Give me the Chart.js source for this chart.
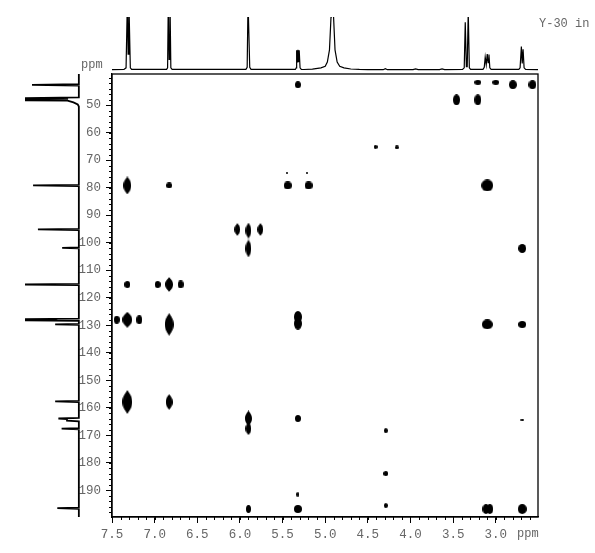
<!DOCTYPE html>
<html>
<head>
<meta charset="utf-8">
<title>Y-30 in</title>
<script src="https://cdn.jsdelivr.net/npm/chart.js@4/dist/chart.umd.min.js"></script>
<style>
  html, body { margin: 0; padding: 0; background: #fff; }
  canvas { position: absolute; display: block; }
  #main { left: 0; top: 0; }
  #top { left: 112px; top: 17px; }
  #side { left: 25px; top: 74px; }
  .lbl { position: absolute; font: 12px "Liberation Mono", monospace; color: #666; white-space: pre; }
</style>
</head>
<body>
<canvas id="main" width="595" height="553"></canvas>
<canvas id="top" width="426" height="54"></canvas>
<canvas id="side" width="56" height="443"></canvas>
<div class="lbl" style="left:81px;top:58px">ppm</div>
<div class="lbl" style="left:517px;top:527px">ppm</div>
<div class="lbl" style="left:539px;top:17px">Y-30 in</div>
<script>
"use strict";

// axis ranges, ppm
const hRange = [7.5, 2.505];
const cRange = [38.7, 199.7];

const xTicks = [7.5, 7.0, 6.5, 6.0, 5.5, 5.0, 4.5, 4.0, 3.5, 3.0];
const yTicks = [50, 60, 70, 80, 90, 100, 110, 120, 130, 140, 150, 160, 170, 180, 190];

// cross peaks: 1H shift, 13C shift, contour extent in each dimension (ppm)
const crossH = [5.32, 3.21, 3.00, 2.80, 2.57, 3.46, 3.21, 4.41, 4.16, 5.45, 5.21, 7.32, 6.83, 5.44, 5.195, 3.10,
  6.03, 5.90, 5.76, 5.90, 2.69, 7.32, 6.965, 6.83, 6.695, 7.445, 7.32, 7.18, 6.83, 5.32, 5.32, 3.10, 2.69,
  7.32, 6.83, 5.90, 5.90, 5.32, 2.69, 4.29, 4.29, 5.32, 4.29, 5.90, 5.32, 3.115, 3.07, 2.69];
const crossC = [42.6, 41.7, 41.7, 42.6, 42.6, 48.1, 48.1, 65.2, 65.4, 74.5, 74.5, 79.2, 79.2, 79.2, 79.2, 79.2,
  95.2, 95.6, 95.2, 102.1, 102.1, 115.2, 115.2, 115.2, 115.2, 128, 128, 128, 129.7, 127, 129.4, 129.7, 129.7,
  157.9, 157.9, 163.9, 167.6, 163.9, 164.3, 168.3, 183.9, 191.5, 195.5, 196.8, 196.8, 196.8, 196.8, 196.8];
const crossWidthH = [.07, .08, .08, .085, .085, .08, .08, .04, .04, .018, .018, .09, .06, .085, .085, .14,
  .06, .07, .06, .07, .085, .06, .06, .085, .06, .07, .11, .07, .1, .09, .09, .12, .085,
  .11, .08, .075, .07, .07, .045, .045, .055, .035, .045, .055, .085, .075, .075, .105];
const crossWidthC = [2.2, 1.5, 1.5, 3.0, 3.0, 3.8, 3.8, 1.3, 1.3, .7, .7, 6.5, 2.0, 2.6, 2.6, 4.0,
  4.4, 5.8, 4.4, 6.5, 3.0, 2.2, 2.4, 5.2, 2.6, 2.6, 5.5, 3.0, 8.0, 4.0, 4.0, 3.6, 2.2,
  8.7, 5.8, 5.8, 4.4, 2.2, .7, 1.5, 1.8, 1.5, 1.5, 2.7, 2.6, 3.6, 3.6, 3.6];

// 1H projection (above 100 runs off the top)
const protonPpm = [7.5, 7.36, 7.335, 7.32, 7.311, 7.302, 7.285, 7.27,
  6.86, 6.848, 6.84, 6.83, 6.82, 6.81, 6.795,
  5.93, 5.915, 5.905, 5.895, 5.885, 5.87,
  5.35, 5.34, 5.335, 5.325, 5.32, 5.31, 5.305, 5.295, 5.28,
  5.25, 5.15, 5.05, 5.0, 4.975, 4.95, 4.932, 4.928, 4.906, 4.902, 4.885, 4.86, 4.83, 4.78, 4.7, 4.6, 4.5,
  4.32, 4.295, 4.27, 3.97, 3.94, 3.91, 3.66, 3.63, 3.60,
  3.39, 3.37, 3.358, 3.345, 3.335, 3.323, 3.31, 3.295,
  3.15, 3.135, 3.124, 3.112, 3.1, 3.09, 3.08, 3.07, 3.055,
  2.73, 2.715, 2.70, 2.69, 2.68, 2.668, 2.65, 2.505];
const protonInt = [.5, 1, 4, 130, 30, 130, 4, 1,
  1, 4, 130, 20, 130, 4, 1,
  1, 5, 130, 130, 5, 1,
  1, 4, 37, 15, 38, 15, 37, 4, 1,
  .8, 1.5, 4, 7, 15, 38, 100, 130, 130, 100, 38, 15, 7, 4, 1.8, 1, .6,
  .5, 2.5, .5, .5, 2, .5, .5, 2, .5,
  1, 4, 90, 6, 6, 110, 4, 1,
  1, 5, 24, 10, 30, 14, 29, 4, 1,
  1, 4, 44, 12, 39, 4, 1, .5];

// 13C projection
const carbonPpm = [38.7, 42.4, 42.65, 42.9, 47.2, 47.5, 47.7, 47.9, 48.1, 48.25, 48.35, 49.0, 49.8, 50.5,
  79.0, 79.2, 79.4, 95.0, 95.2, 95.4, 101.7, 101.9, 102.1, 115.0, 115.2, 115.4,
  127.6, 127.8, 128.0, 128.2, 128.4, 129.5, 129.7, 129.9, 157.5, 157.7, 157.9,
  163.7, 163.9, 164.1, 164.3, 164.7, 164.9, 167.4, 167.6, 167.8, 196.3, 196.5, 196.7, 199.7];
const carbonInt = [0, 0, 87, 0, 0, 110, 20, 110, 20, 110, 21, 10, 2, 0,
  0, 85, 0, 0, 76, 0, 0, 31, 0, 0, 105, 0,
  0, 110, 40, 110, 0, 0, 44, 0, 0, 44, 0,
  0, 38, 22, 22, 22, 0, 0, 32, 0, 0, 40, 0, 0];

const inkColor = "#000";
const labelColor = "#666";
const labelFont = { family: "'Liberation Mono', monospace", size: 12.5 };

// contour blob of given pixel size, tall ones come to a point like the real contours
function blobSprite(w, h) {
  const c = document.createElement("canvas");
  c.width = Math.max(2, Math.ceil(w));
  c.height = Math.max(2, Math.ceil(h));
  const g = c.getContext("2d");
  const mx = c.width / 2, my = c.height / 2;
  const ch = c.height;
  g.fillStyle = inkColor;
  g.beginPath();
  if (h > w * 1.6) {
    g.moveTo(mx, 0);
    g.bezierCurveTo(mx + w * .15, ch * .12, mx + mx, ch * .25, mx + mx, my);
    g.bezierCurveTo(mx + mx, ch * .75, mx + w * .15, ch * .88, mx, ch);
    g.bezierCurveTo(mx - w * .15, ch * .88, 0, ch * .75, 0, my);
    g.bezierCurveTo(0, ch * .25, mx - w * .15, ch * .12, mx, 0);
  } else {
    g.ellipse(mx, my, c.width / 2, c.height / 2, 0, 0, Math.PI * 2);
  }
  g.fill();
  return c;
}

// frame round the plot plus the small ticks between the labelled ones
const frameTicks = {
  id: "frameTicks",
  afterDraw(chart) {
    const { ctx, chartArea: a, scales } = chart;
    ctx.save();
    ctx.strokeStyle = inkColor;
    ctx.lineWidth = 1.3;
    ctx.strokeRect(a.left, a.top, a.right - a.left, a.bottom - a.top);
    ctx.lineWidth = 1;
    ctx.beginPath();
    for (let i = 75; i >= 26; i--) {
      const x = Math.round(scales.x.getPixelForValue(i / 10)) + .5;
      ctx.moveTo(x, a.bottom);
      ctx.lineTo(x, a.bottom + 3);
    }
    for (let v = 40; v <= 198; v += 2) {
      const y = Math.round(scales.y.getPixelForValue(v)) + .5;
      ctx.moveTo(a.left, y);
      ctx.lineTo(a.left - 3, y);
    }
    ctx.stroke();
    ctx.restore();
  },
};

new Chart(document.getElementById("main"), {
  type: "scatter",
  data: {
    datasets: [{
      data: crossH.map((h, i) => ({ x: h, y: crossC[i] })),
      pointStyle(context) {
        const { x, y } = context.chart.scales;
        const i = context.dataIndex;
        const w = Math.abs(x.getPixelForValue(3) - x.getPixelForValue(3 + crossWidthH[i]));
        const h = Math.abs(y.getPixelForValue(100) - y.getPixelForValue(100 + crossWidthC[i]));
        return blobSprite(w, h);
      },
    }],
  },
  options: {
    responsive: false,
    animation: false,
    layout: { padding: { left: 52, top: 74, right: 57, bottom: 6 } },
    plugins: { legend: { display: false }, tooltip: { enabled: false } },
    scales: {
      x: {
        type: "linear",
        reverse: true,
        min: hRange[1],
        max: hRange[0],
        afterFit(s) { s.height = 30; },
        afterBuildTicks(s) { s.ticks = xTicks.map((v) => ({ value: v })); },
        border: { color: inkColor, width: 1.3 },
        grid: { drawOnChartArea: false, color: inkColor, tickLength: 6, lineWidth: 1 },
        ticks: {
          color: labelColor, font: labelFont, padding: 4, maxRotation: 0, autoSkip: false,
          callback: (v) => v.toFixed(1),
        },
      },
      y: {
        type: "linear",
        reverse: true,
        min: cRange[0],
        max: cRange[1],
        afterFit(s) { s.width = 60; },
        afterBuildTicks(s) { s.ticks = yTicks.map((v) => ({ value: v })); },
        border: { color: inkColor, width: 1.3 },
        grid: { drawOnChartArea: false, color: inkColor, tickLength: 6, lineWidth: 1 },
        ticks: { color: labelColor, font: labelFont, padding: 5, autoSkip: false },
      },
    },
  },
  plugins: [frameTicks],
});

// 1H projection above the plot
new Chart(document.getElementById("top"), {
  type: "scatter",
  data: {
    datasets: [{
      data: protonPpm.map((p, i) => ({ x: p, y: protonInt[i] })),
      showLine: true,
      borderColor: inkColor,
      borderWidth: 1.2,
      pointRadius: 0,
    }],
  },
  options: {
    responsive: false,
    animation: false,
    plugins: { legend: { display: false }, tooltip: { enabled: false } },
    scales: {
      x: { type: "linear", reverse: true, min: hRange[1], max: hRange[0], display: false },
      y: { type: "linear", min: -2, max: 100, display: false },
    },
  },
});

// 13C projection left of the plot
new Chart(document.getElementById("side"), {
  type: "scatter",
  data: {
    datasets: [{
      data: carbonPpm.map((p, i) => ({ x: carbonInt[i], y: p })),
      showLine: true,
      borderColor: inkColor,
      borderWidth: 1.8,
      pointRadius: 0,
    }],
  },
  options: {
    responsive: false,
    animation: false,
    plugins: { legend: { display: false }, tooltip: { enabled: false } },
    scales: {
      x: { type: "linear", reverse: true, min: -4, max: 100, display: false },
      y: { type: "linear", reverse: true, min: cRange[0], max: cRange[1], display: false },
    },
  },
});
</script>
</body>
</html>
